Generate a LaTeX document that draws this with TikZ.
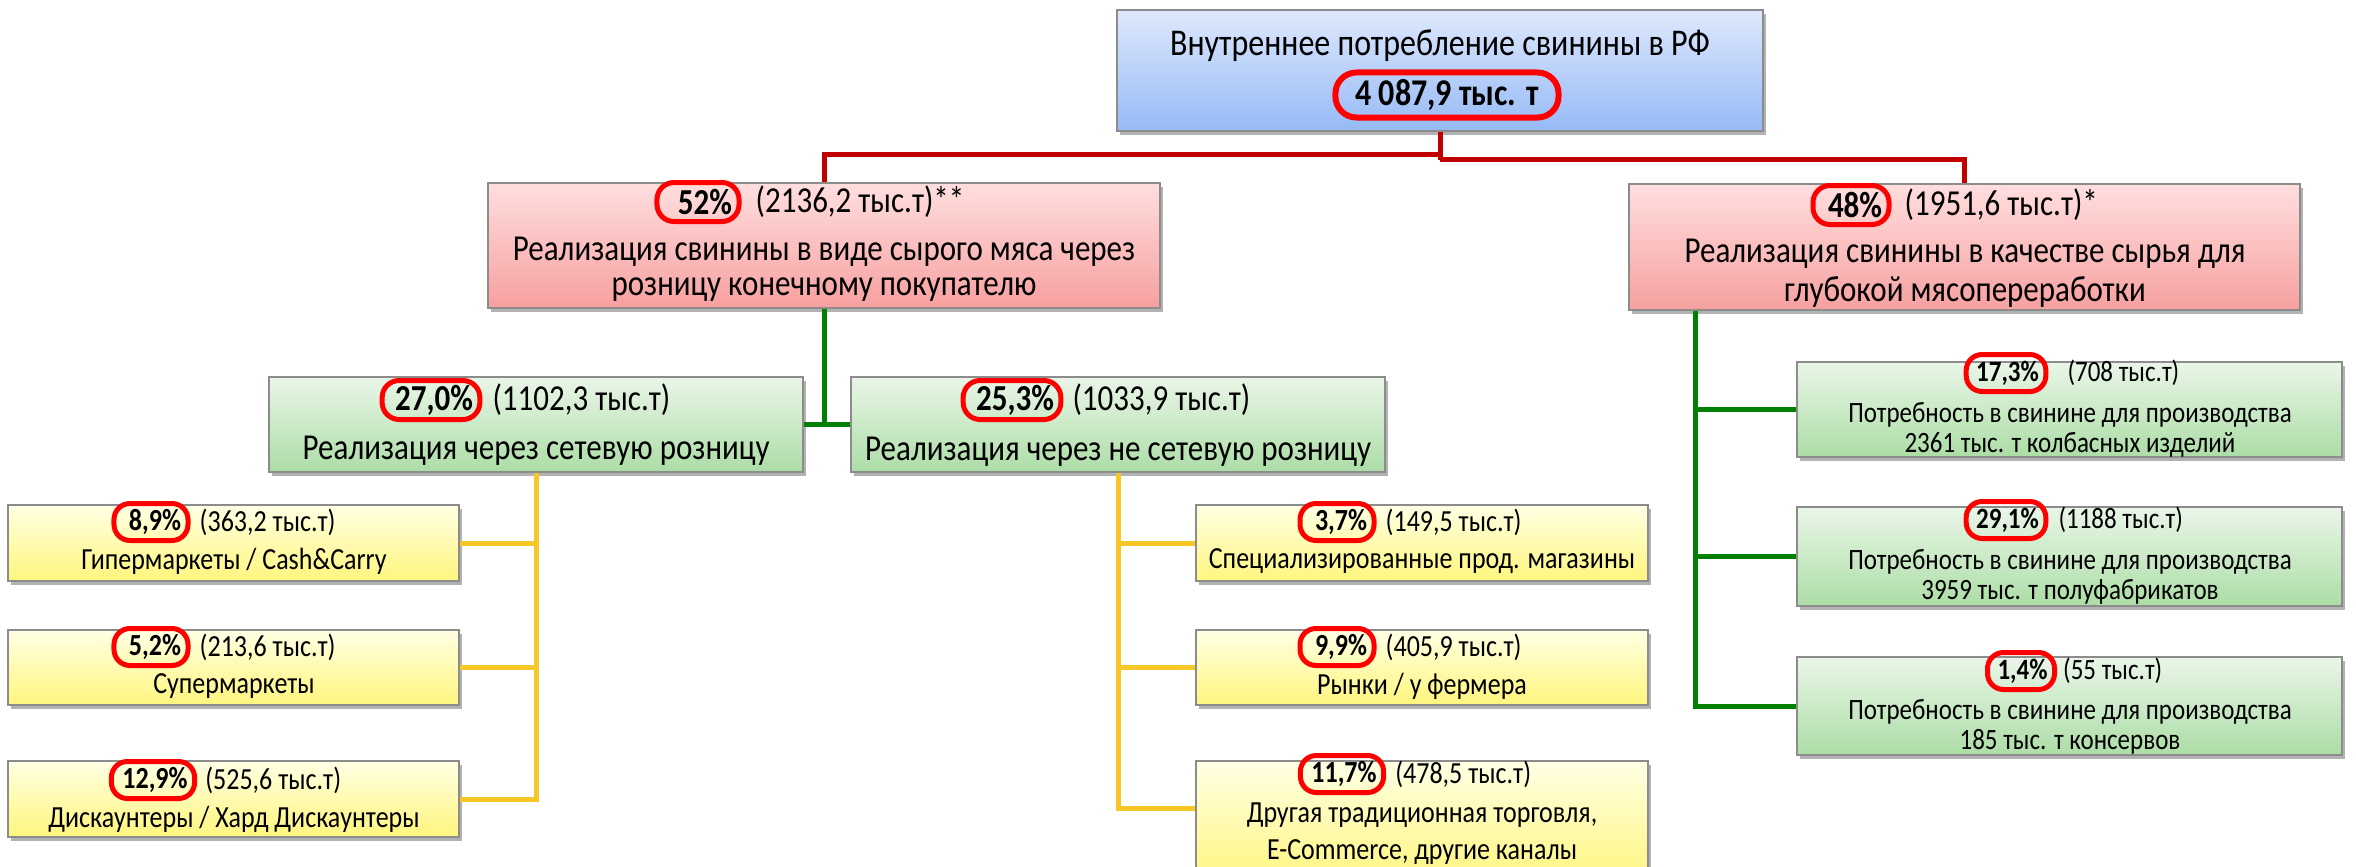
\documentclass[tikz,border=0pt]{standalone}
\usepackage{fontspec}
\setmainfont{Carlito}
\usetikzlibrary{shadows,fit,calc}
\definecolor{blueT}{RGB}{222,232,252}
\definecolor{blueB}{RGB}{150,186,246}
\definecolor{pinkT}{RGB}{255,222,222}
\definecolor{pinkB}{RGB}{247,160,160}
\definecolor{greenT}{RGB}{234,246,232}
\definecolor{greenB}{RGB}{172,221,166}
\definecolor{yelT}{RGB}{255,255,228}
\definecolor{yelB}{RGB}{255,246,125}
\definecolor{boxgray}{RGB}{140,140,140}
\definecolor{ovalred}{RGB}{255,0,0}
\definecolor{linered}{RGB}{192,0,0}
\definecolor{linegreen}{RGB}{0,128,0}
\definecolor{lineyel}{RGB}{245,200,40}
\newcommand{\vs}[1]{\scalebox{1}[1.18]{#1}}
\begin{document}
\begin{tikzpicture}[x=1pt,y=-1pt,
  box/.style={draw=boxgray, line width=1.2pt, inner sep=0pt,
    drop shadow={shadow xshift=3pt,shadow yshift=-4pt,opacity=.3,fill=black}},
  bluebox/.style={box,top color=blueT,bottom color=blueB},
  pinkbox/.style={box,top color=pinkT,bottom color=pinkB},
  greenbox/.style={box,top color=greenT,bottom color=greenB},
  yelbox/.style={box,top color=yelT,bottom color=yelB},
  big/.style={font=\fontsize{31}{36}\selectfont, inner sep=0pt},
  mid/.style={font=\fontsize{26}{30}\selectfont, inner sep=0pt},
  sml/.style={font=\fontsize{25}{29}\selectfont, inner sep=0pt},
  pct/.style={draw=ovalred, line width=5pt, rounded corners=17pt, minimum height=39pt, inner xsep=7pt, inner ysep=0pt},
  pctb/.style={pct, font=\bfseries\fontsize{31}{36}\selectfont},
  pctm/.style={pct, minimum height=37pt, rounded corners=16pt, font=\bfseries\fontsize{26}{30}\selectfont},
  pcts/.style={pct, minimum height=37pt, rounded corners=16pt, font=\bfseries\fontsize{25}{29}\selectfont},
  redline/.style={draw=linered, line width=5pt},
  grline/.style={draw=linegreen, line width=5pt},
  yline/.style={draw=lineyel, line width=5pt}
]
\useasboundingbox (0,0) rectangle (2356,867);

% ---- boxes ----
\node[bluebox, fit={(1117,10)(1763,131)}] (top) {};
\node[pinkbox, fit={(488,183)(1160,308)}] (pl) {};
\node[pinkbox, fit={(1629,184)(2300,310)}] (pr) {};
\node[greenbox, fit={(269,377)(803,472)}] (g27) {};
\node[greenbox, fit={(851,377)(1385,472)}] (g25) {};
\node[yelbox, fit={(8,505)(459,581)}] (yl1) {};
\node[yelbox, fit={(8,630)(459,705)}] (yl2) {};
\node[yelbox, fit={(8,761)(459,837)}] (yl3) {};
\node[yelbox, fit={(1196,505)(1648,581)}] (yr1) {};
\node[yelbox, fit={(1196,630)(1648,705)}] (yr2) {};
\node[yelbox, fit={(1196,761)(1648,885)}] (yr3) {};
\node[greenbox, fit={(1797,362)(2342,457)}] (gr1) {};
\node[greenbox, fit={(1797,507)(2342,606)}] (gr2) {};
\node[greenbox, fit={(1797,657)(2342,755)}] (gr3) {};

% ---- connectors ----
\coordinate (rjl) at ($(top.south)+(0,23)$);
\coordinate (rjr) at ($(top.south)+(0,28)$);
\draw[redline] (top.south) -- (rjr);
\draw[redline] (rjl) -| (pl.north);
\draw[redline] (rjr) -| (pr.north);

\draw[grline] (pl.south) -- (pl.south |- g27.east);
\draw[grline] (g27.east) -- (g25.west);

\draw[yline] (g27.south) |- (yl3.east);
\draw[yline] (yl1.east) -- (yl1.east -| g27.south);
\draw[yline] (yl2.east) -- (yl2.east -| g27.south);

\coordinate (yr3in) at ($(yr3.north west)+(0,48)$);
\draw[yline] (g25.south) |- (yr3in);
\draw[yline] (yr1.west) -- (yr1.west -| g25.south);
\draw[yline] (yr2.west) -- (yr2.west -| g25.south);

\coordinate (grs) at ($(pr.south west)+(67,0)$);
\draw[grline] (grs) |- (gr3.west);
\draw[grline] (gr1.west) -- (gr1.west -| grs);
\draw[grline] (gr2.west) -- (gr2.west -| grs);

% ---- texts ----
\node[big, font=\fontsize{32}{36}\selectfont] (top-t) at (1440,46) {\vs{Внутреннее потребление свинины в РФ}};
\node[pct, line width=6pt, minimum height=45pt, inner xsep=20pt, rounded corners=21pt,
      font=\bfseries\fontsize{32}{36}\selectfont] (top-p) at (1447,95) {\vs{4 087,9 тыс. т}};

\node[pctb] (pl-p) at (698,202) {\vs{\hspace*{14pt}52\%}};
\node[big, anchor=west] (pl-v) at ([xshift=14pt]pl-p.east) {\vs{(2136,2 тыс.т)**}};
\node[big] (pl-1) at (824,252) {\vs{Реализация свинины в виде сырого мяса через}};
\node[big] (pl-2) at (824,290) {\vs{розницу конечному покупателю}};

\node[pctb] (pr-p) at (1851,205) {\vs{\hspace*{8pt}48\%}};
\node[big, anchor=west] (pr-v) at ([xshift=13pt]pr-p.east) {\vs{(1951,6 тыс.т)*}};
\node[big] (pr-1) at (1965,254) {\vs{Реализация свинины в качестве сырья для}};
\node[big] (pr-2) at (1965,292) {\vs{глубокой мясопереработки}};

\node[pctb] (g27-p) at (431,400) {\vs{\hspace*{6pt}27,0\%}};
\node[big, anchor=west] (g27-v) at ([xshift=10pt]g27-p.east) {\vs{(1102,3 тыс.т)}};
\node[big] (g27-1) at (536,451) {\vs{Реализация через сетевую розницу}};

\node[pctb] (g25-p) at (1012,400) {\vs{\hspace*{6pt}25,3\%}};
\node[big, anchor=west] (g25-v) at ([xshift=9pt]g25-p.east) {\vs{(1033,9 тыс.т)}};
\node[big] (g25-1) at (1118,452) {\vs{Реализация через не сетевую розницу}};

\node[pctm] (yl1-p) at (151,522) {\vs{\hspace*{8pt}8,9\%}};
\node[mid, anchor=west] (yl1-v) at ([xshift=9pt]yl1-p.east) {\vs{(363,2 тыс.т)}};
\node[mid] (yl1-1) at (234,561) {\vs{Гипермаркеты / Cash\&Carry}};

\node[pctm] (yl2-p) at (151,647) {\vs{\hspace*{8pt}5,2\%}};
\node[mid, anchor=west] (yl2-v) at ([xshift=9pt]yl2-p.east) {\vs{(213,6 тыс.т)}};
\node[mid] (yl2-1) at (234,686) {\vs{Супермаркеты}};

\node[pctm] (yl3-p) at (153,780) {\vs{\hspace*{4pt}12,9\%}};
\node[mid, anchor=west] (yl3-v) at ([xshift=8pt]yl3-p.east) {\vs{(525,6 тыс.т)}};
\node[mid] (yl3-1) at (234,819) {\vs{Дискаунтеры / Хард Дискаунтеры}};

\node[pctm] (yr1-p) at (1337,522) {\vs{\hspace*{8pt}3,7\%}};
\node[mid, anchor=west] (yr1-v) at ([xshift=9pt]yr1-p.east) {\vs{(149,5 тыс.т)}};
\node[mid] (yr1-1) at (1422,561) {\vs{Специализированные прод. магазины}};

\node[pctm] (yr2-p) at (1337,647) {\vs{\hspace*{8pt}9,9\%}};
\node[mid, anchor=west] (yr2-v) at ([xshift=9pt]yr2-p.east) {\vs{(405,9 тыс.т)}};
\node[mid] (yr2-1) at (1422,686) {\vs{Рынки / у фермера}};

\node[pctm] (yr3-p) at (1342,774) {\vs{\hspace*{4pt}11,7\%}};
\node[mid, anchor=west] (yr3-v) at ([xshift=9pt]yr3-p.east) {\vs{(478,5 тыс.т)}};
\node[mid] (yr3-1) at (1422,815) {\vs{Другая традиционная торговля,}};
\node[mid] (yr3-2) at (1422,852) {\vs{E-Commerce, другие каналы}};

\node[pcts] (gr1-p) at (2006,373) {\vs{\hspace*{3pt}17,3\%}};
\node[sml, anchor=west] (gr1-v) at ([xshift=19pt]gr1-p.east) {\vs{(708 тыс.т)}};
\node[sml] (gr1-1) at (2070,415) {\vs{Потребность в свинине для производства}};
\node[sml] (gr1-2) at (2070,445) {\vs{2361 тыс. т колбасных изделий}};

\node[pcts] (gr2-p) at (2006,520) {\vs{\hspace*{3pt}29,1\%}};
\node[sml, anchor=west] (gr2-v) at ([xshift=10pt]gr2-p.east) {\vs{(1188 тыс.т)}};
\node[sml] (gr2-1) at (2070,562) {\vs{Потребность в свинине для производства}};
\node[sml] (gr2-2) at (2070,592) {\vs{3959 тыс. т полуфабрикатов}};

\node[pcts] (gr3-p) at (2021,671) {\vs{\hspace*{3pt}1,4\%}};
\node[sml, anchor=west] (gr3-v) at ([xshift=6pt]gr3-p.east) {\vs{(55 тыс.т)}};
\node[sml] (gr3-1) at (2070,712) {\vs{Потребность в свинине для производства}};
\node[sml] (gr3-2) at (2070,742) {\vs{185 тыс. т консервов}};
\end{tikzpicture}
\end{document}
